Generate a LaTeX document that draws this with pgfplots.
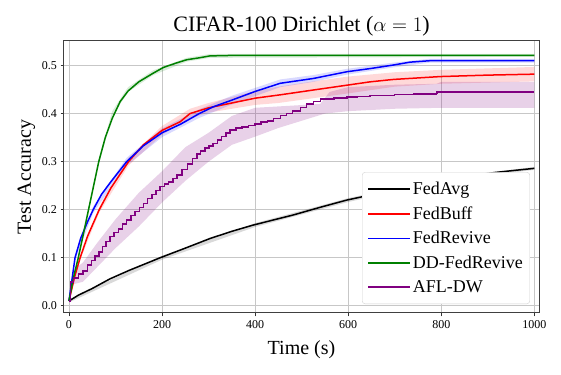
\documentclass[border=0pt]{standalone}
\usepackage{fontspec}
\setmainfont{Liberation Serif}
\usepackage{pgfplots}
\pgfplotsset{compat=1.18}
\definecolor{mgreen}{RGB}{0,128,0}
\definecolor{mpurple}{RGB}{128,0,128}
\begin{document}
\begin{tikzpicture}
\begin{axis}[
  scale only axis, width=475pt, height=272pt,
  xmin=-10.7, xmax=1010, ymin=-0.015, ymax=0.551,
  xtick={0,200,400,600,800,1000},
  ytick={0,0.1,0.2,0.3,0.4,0.5},
  xticklabel style={/pgf/number format/1000 sep={}},
  yticklabel style={/pgf/number format/fixed,/pgf/number format/precision=1,/pgf/number format/fixed zerofill},
  /pgf/number format/assume math mode=true,
  ticklabel style={font=\fontsize{12}{14}\selectfont},
  tick align=outside, major tick length=3.5pt,
  tick style={color=black!80, line width=0.8pt},
  xtick pos=bottom, ytick pos=left,
  axis line style={color=black!75, line width=1pt},
  grid=major, major grid style={color=black!22, line width=0.8pt},
  title={CIFAR-100 Dirichlet ($\alpha=1$)},
  title style={font=\fontsize{22}{26}\selectfont, yshift=-5pt},
  xlabel={Time (s)}, ylabel={Test Accuracy},
  label style={font=\fontsize{20}{23}\selectfont},
  xlabel style={yshift=-6pt},
  legend style={at={(0.981,0.033)}, anchor=south east, draw=black!18, rounded corners=3pt,
    fill=white, font=\fontsize{18}{21}\selectfont,
    row sep=6.5pt, inner xsep=5pt, inner ysep=8pt},
  legend cell align=left,
  legend image code/.code={\draw[#1] (0pt,0pt) -- (37pt,0pt); \path (0pt,0pt) -- (42pt,0pt);},
]
\addlegendimage{black, line width=1.6pt}\addlegendentry{FedAvg}
\addlegendimage{red, line width=1.6pt}\addlegendentry{FedBuff}
\addlegendimage{blue, line width=1.6pt}\addlegendentry{FedRevive}
\addlegendimage{mgreen, line width=1.6pt}\addlegendentry{DD-FedRevive}
\addlegendimage{mpurple, line width=1.6pt}\addlegendentry{AFL-DW}
% bands
\addplot[forget plot, draw=none, fill=black, fill opacity=0.15] coordinates {
(0,0.013)(200,0.104)(400,0.172)(600,0.224)(800,0.265)(1000,0.289)
(1000,0.283)(800,0.259)(600,0.216)(400,0.164)(200,0.096)(0,0.007)} -- cycle;
\addplot[forget plot, draw=none, fill=red, fill opacity=0.15] coordinates {
(0,0.01)(24,0.104)(65,0.206)(128,0.308)(200,0.374)(260,0.41)(300,0.422)(400,0.447)(450,0.456)(525,0.467)(600,0.477)(700,0.486)(800,0.491)(1000,0.497)
(1000,0.467)(800,0.462)(700,0.456)(600,0.442)(525,0.432)(450,0.422)(400,0.418)(300,0.402)(260,0.39)(200,0.356)(128,0.292)(65,0.194)(24,0.096)(0,0.01)} -- cycle;
\addplot[forget plot, draw=none, fill=blue, fill opacity=0.15] coordinates {
(0,0.01)(13,0.105)(52,0.207)(124,0.308)(200,0.369)(280,0.409)(350,0.437)(454,0.471)(525,0.48)(597,0.493)(697,0.506)(776,0.514)(1000,0.514)
(1000,0.506)(776,0.506)(697,0.496)(597,0.481)(525,0.466)(454,0.455)(350,0.419)(280,0.391)(200,0.351)(124,0.292)(52,0.193)(13,0.095)(0,0.01)} -- cycle;
\addplot[forget plot, draw=none, fill=mgreen, fill opacity=0.15] coordinates {
(0,0.01)(20,0.104)(42,0.205)(64,0.305)(93,0.405)(127,0.455)(181,0.49)(253,0.516)(303,0.524)(1000,0.524)
(1000,0.518)(303,0.516)(253,0.508)(181,0.48)(127,0.445)(93,0.395)(64,0.295)(42,0.195)(20,0.096)(0,0.01)} -- cycle;
\addplot[forget plot, draw=none, fill=mpurple, fill opacity=0.18] coordinates {
(0,0.01)(10,0.075)(30,0.09)(60,0.13)(100,0.18)(150,0.235)(200,0.28)(250,0.33)(300,0.36)(350,0.395)(400,0.412)(540,0.42)(560,0.445)(600,0.455)(700,0.46)(790,0.462)(800,0.466)(1000,0.466)
(1000,0.412)(800,0.412)(700,0.41)(600,0.405)(550,0.40)(500,0.385)(450,0.37)(400,0.352)(350,0.335)(300,0.30)(250,0.26)(200,0.215)(150,0.165)(100,0.12)(60,0.08)(30,0.05)(10,0.045)(0,0.01)} -- cycle;
% lines
\addplot[forget plot, black, line width=1.5pt] coordinates {
(0,0.01)(20,0.022)(50,0.036)(88,0.056)(130,0.074)(196,0.1)(250,0.12)(303,0.14)(350,0.155)(396,0.168)(482,0.189)(540,0.205)(597,0.22)(650,0.231)(697,0.241)(750,0.252)(805,0.262)(860,0.27)(912,0.277)(960,0.282)(1000,0.286)};
\addplot[forget plot, red, line width=1.5pt] coordinates {
(0,0.01)(12,0.06)(24,0.1)(40,0.145)(65,0.2)(90,0.245)(128,0.30)(160,0.335)(200,0.365)(239,0.383)(260,0.40)(300,0.412)(350,0.422)(400,0.432)(454,0.439)(525,0.449)(597,0.459)(647,0.466)(697,0.471)(798,0.477)(900,0.48)(1000,0.482)};
\addplot[forget plot, blue, line width=1.5pt] coordinates {
(0,0.01)(13,0.1)(25,0.14)(40,0.175)(52,0.2)(70,0.232)(90,0.258)(124,0.30)(160,0.333)(200,0.36)(240,0.378)(280,0.40)(310,0.414)(350,0.428)(400,0.446)(454,0.463)(525,0.473)(597,0.487)(650,0.494)(697,0.501)(733,0.507)(776,0.51)(1000,0.51)};
\addplot[forget plot, mgreen, line width=1.5pt] coordinates {
(0,0.010)(10,0.06)(20,0.10)(30,0.145)(42,0.20)(53,0.25)(64,0.30)(78,0.35)(93,0.39)(110,0.425)(127,0.447)(150,0.466)(181,0.484)(203,0.496)(230,0.505)(253,0.512)(280,0.516)(303,0.52)(350,0.521)(500,0.521)(1000,0.521)};
\addplot[forget plot, mpurple, line width=1.5pt, const plot] coordinates {
(0,0.01)(3,0.05)(10,0.058)(20,0.066)(30,0.072)(40,0.085)(48,0.094)(56,0.104)(64,0.112)(72,0.123)(80,0.134)(88,0.144)(97,0.152)(106,0.16)(115,0.17)(124,0.179)(133,0.188)(142,0.196)(151,0.205)(160,0.213)(169,0.223)(178,0.232)(187,0.24)(196,0.248)(205,0.253)(214,0.258)(223,0.265)(232,0.272)(243,0.284)(255,0.295)(265,0.306)(275,0.316)(283,0.322)(292,0.328)(301,0.333)(310,0.338)(319,0.345)(328,0.352)(337,0.36)(346,0.366)(359,0.37)(372,0.372)(386,0.375)(400,0.378)(413,0.382)(427,0.385)(440,0.39)(454,0.396)(467,0.40)(480,0.405)(497,0.413)(510,0.42)(525,0.425)(540,0.43)(570,0.432)(597,0.434)(620,0.436)(647,0.438)(700,0.44)(740,0.441)(790,0.442)(791,0.445)(1000,0.445)};
\end{axis}
\path ([shift={(-64pt,-61pt)}]current axis.south west) rectangle ([shift={(22pt,41pt)}]current axis.north east);
\end{tikzpicture}
\end{document}
